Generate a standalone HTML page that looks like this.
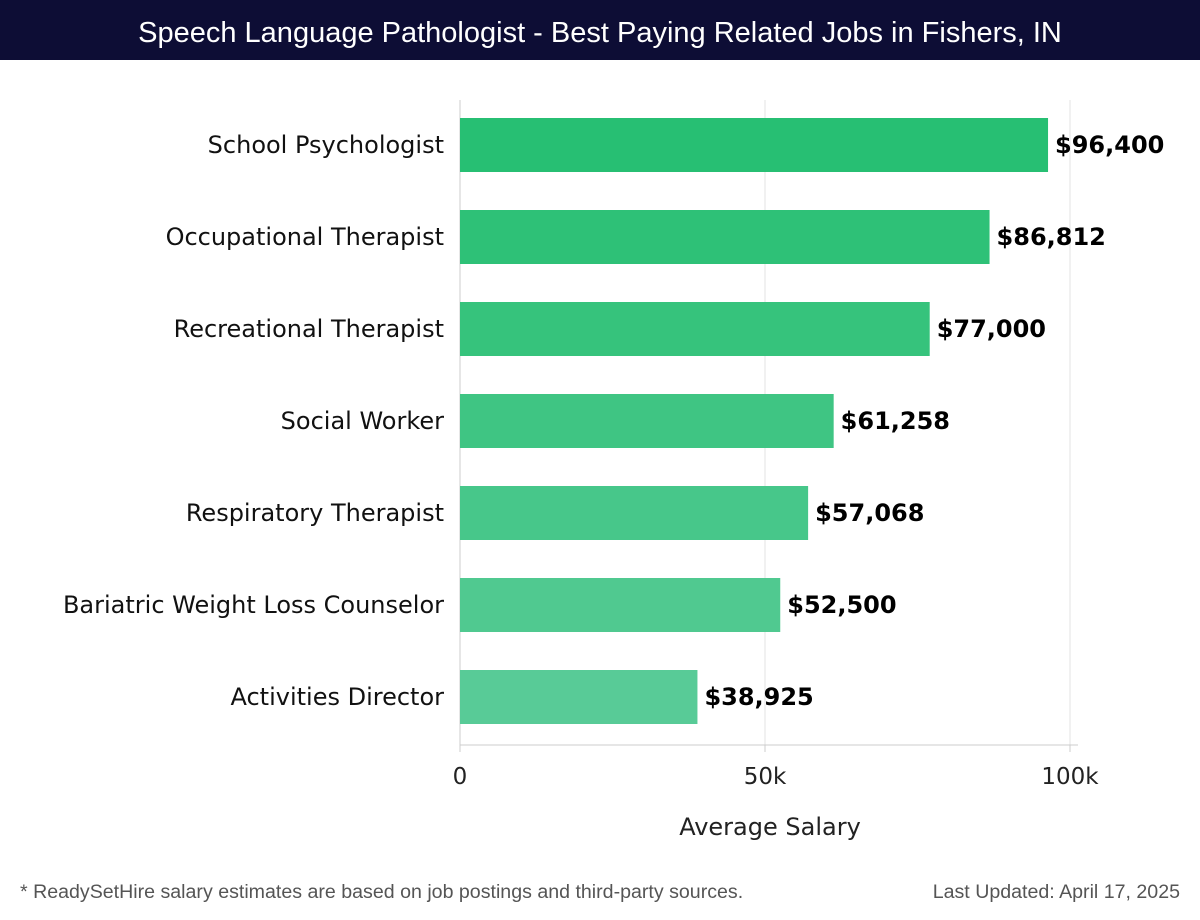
<!DOCTYPE html>
<html><head><meta charset="utf-8"><style>
body{margin:0;width:1200px;height:920px;background:#fff;font-family:"DejaVu Sans","Liberation Sans",sans-serif;overflow:hidden}
#title{position:absolute;left:0;top:0;width:1200px;height:60px;background:#0d0d35;color:#fff;font-family:"Liberation Sans",sans-serif;font-size:29px;text-align:center;line-height:66px}
svg{position:absolute;left:0;top:0}
</style></head><body>
<div id="title">Speech Language Pathologist - Best Paying Related Jobs in Fishers, IN</div>
<svg id="chart" width="1200" height="920"></svg>
<script>
const categories=["School Psychologist","Occupational Therapist","Recreational Therapist","Social Worker","Respiratory Therapist","Bariatric Weight Loss Counselor","Activities Director"];
const salaries=[96400,86812,77000,61258,57068,52500,38925];
const valueLabels=["$96,400","$86,812","$77,000","$61,258","$57,068","$52,500","$38,925"];
const tickValues=[0,50000,100000];
const tickLabels=["0","50k","100k"];
const colors=["#27bf73","#2ec177","#36c37c","#3fc583","#47c78a","#50c990","#58cb97"];
const svg=document.getElementById('chart');
const NS='http://www.w3.org/2000/svg';
const x=v=>460+v*0.0061;
const y=i=>145+i*92;
function mk(t,a,txt){const e=document.createElementNS(NS,t);for(const k in a)e.setAttribute(k,a[k]);if(txt!==undefined)e.textContent=txt;svg.appendChild(e);return e;}
tickValues.forEach((v,i)=>{
const g=mk('line',{x1:x(v),x2:x(v),y1:100,y2:745,stroke:i==0?'#ccc':'#e3e3e3','stroke-width':1});


const tk=mk('line',{x1:x(v),x2:x(v),y1:745,y2:752,stroke:'#ccc'});


const t=mk('text',{x:x(v),y:784,'text-anchor':'middle','font-size':23,fill:'#222'},tickLabels[i]);


});
const ax=mk('line',{x1:460,x2:1078,y1:745,y2:745,stroke:'#ccc'});


categories.forEach((c,i)=>{
const b=mk('rect',{x:x(0),y:y(i)-27,width:x(salaries[i])-x(0),height:54,fill:colors[i]});


const l=mk('text',{x:444,y:y(i)+8,'text-anchor':'end','font-size':24,fill:'#111'},c);


const v=mk('text',{x:x(salaries[i])+7,y:y(i)+8,'font-size':24,'font-weight':'bold',fill:'#000'},valueLabels[i]);


});
const at=mk('text',{x:770,y:835,'text-anchor':'middle','font-size':24,fill:'#222'},'Average Salary');


const f1=mk('text',{x:20,y:898,'font-size':19.6,fill:'#555','font-family':'Liberation Sans, sans-serif'},'* ReadySetHire salary estimates are based on job postings and third-party sources.');


const f2=mk('text',{x:1180,y:898,'text-anchor':'end','font-size':19.6,fill:'#555','font-family':'Liberation Sans, sans-serif'},'Last Updated: April 17, 2025');


</script>
</body></html>
